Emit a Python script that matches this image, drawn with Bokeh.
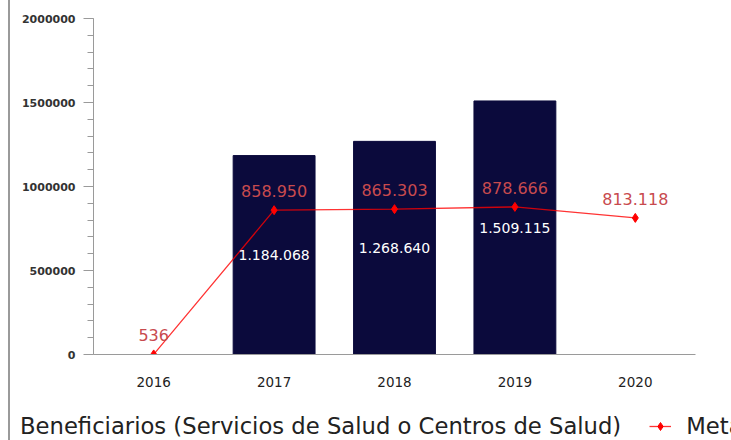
from bokeh.plotting import figure
from bokeh.models import ColumnDataSource, Legend, LegendItem, LabelSet, FixedTicker
from bokeh.core.properties import value
from bokeh.embed import file_html
from bokeh.resources import INLINE

years = ["2016", "2017", "2018", "2019", "2020"]
beneficiarios = [0, 1184068, 1268640, 1509115, 0]
beneficiarios_lbl = ["", "1.184.068", "1.268.640", "1.509.115", ""]
meta = [536, 858950, 865303, 878666, 813118]
meta_lbl = ["536", "858.950", "865.303", "878.666", "813.118"]
serie_barras = "Beneficiarios (Servicios de Salud o Centros de Salud)"
serie_linea = "Meta"

bar_src = ColumnDataSource(dict(x=years, top=beneficiarios, mid=[v / 2 for v in beneficiarios], lbl=beneficiarios_lbl))
line_src = ColumnDataSource(dict(x=years, y=meta, lbl=meta_lbl))

font = "DejaVu Sans"
BAR = "#0b0a3c"
RED = "#ff0000"
BORDER = {"border-left": "2px solid #9a9a9a", "margin-left": "8px"}

p = figure(x_range=years, y_range=(0, 2000000), width=721, height=400,
           output_backend="svg", toolbar_location=None,
           min_border_left=83, min_border_right=36, min_border_top=18, min_border_bottom=46)
p.styles = BORDER
p.x_range.range_padding = 0
p.outline_line_color = None
p.xgrid.grid_line_color = None
p.ygrid.grid_line_color = None

p.vbar(x="x", top="top", width=0.68, source=bar_src, fill_color=BAR, line_color=BAR)
p.line(x="x", y="y", source=line_src, line_color=RED, line_width=1.3, line_alpha=0.8)
p.scatter(x="x", y="y", source=line_src, marker="diamond", size=9, fill_color=RED, line_color=RED)

p.add_layout(LabelSet(x="x", y="mid", text="lbl", source=bar_src, text_color="white",
                      text_font=value(font), text_font_size="14px", text_align="center", text_baseline="middle"))
p.add_layout(LabelSet(x="x", y="y", text="lbl", source=line_src, text_color="#c84a4e",
                      text_font=value(font), text_font_size="16px", text_align="center", text_baseline="middle",
                      y_offset=19))

p.yaxis.ticker = FixedTicker(ticks=[0, 500000, 1000000, 1500000, 2000000],
                             minor_ticks=list(range(0, 2000001, 100000)))
p.yaxis.formatter.use_scientific = False
p.yaxis.axis_line_color = "#9a9a9a"
p.yaxis.major_tick_line_color = "#9a9a9a"
p.yaxis.minor_tick_line_color = "#9a9a9a"
p.yaxis.major_tick_out = 10
p.yaxis.major_tick_in = 0
p.yaxis.minor_tick_out = 6
p.yaxis.minor_tick_in = 0
p.yaxis.major_label_text_font = font
p.yaxis.major_label_text_font_size = "11px"
p.yaxis.major_label_text_font_style = "bold"
p.yaxis.major_label_text_color = "#333333"
p.yaxis.major_label_standoff = 8

p.xaxis.axis_line_color = "#9a9a9a"
p.xaxis.major_tick_line_color = None
p.xaxis.minor_tick_line_color = None
p.xaxis.major_label_text_font = font
p.xaxis.major_label_text_font_size = "13.5px"
p.xaxis.major_label_text_color = "#222222"
p.xaxis.major_label_standoff = 16

# legend strip below the chart: the same series, drawn in a y-range that keeps them out of view
lg = figure(x_range=years, y_range=(2000000, 4000000), width=721, height=40,
            output_backend="svg", toolbar_location=None,
            x_axis_location=None, y_axis_location=None,
            min_border_left=0, min_border_right=0, min_border_top=0, min_border_bottom=0)
lg.styles = BORDER
lg.outline_line_color = None
lg.grid.visible = False
r_bar = lg.vbar(x="x", top="top", width=0.68, source=bar_src, fill_color=BAR, line_color=BAR)
r_ln = lg.line(x="x", y="y", source=line_src, line_color=RED, line_width=1.3, line_alpha=0.8)
r_mk = lg.scatter(x="x", y="y", source=line_src, marker="diamond", size=9, fill_color=RED, line_color=RED)

legend = Legend(items=[LegendItem(label=serie_barras, renderers=[r_bar]),
                       LegendItem(label=serie_linea, renderers=[r_ln, r_mk])],
                orientation="horizontal", location=(-27, 1), padding=0, margin=0,
                glyph_width=22, label_standoff=15, spacing=28, border_line_color=None,
                background_fill_alpha=0,
                label_text_font=font, label_text_font_size="22.7px", label_text_color="#222222")
lg.add_layout(legend, "center")

open("out.html", "w").write(file_html([p, lg], INLINE))
